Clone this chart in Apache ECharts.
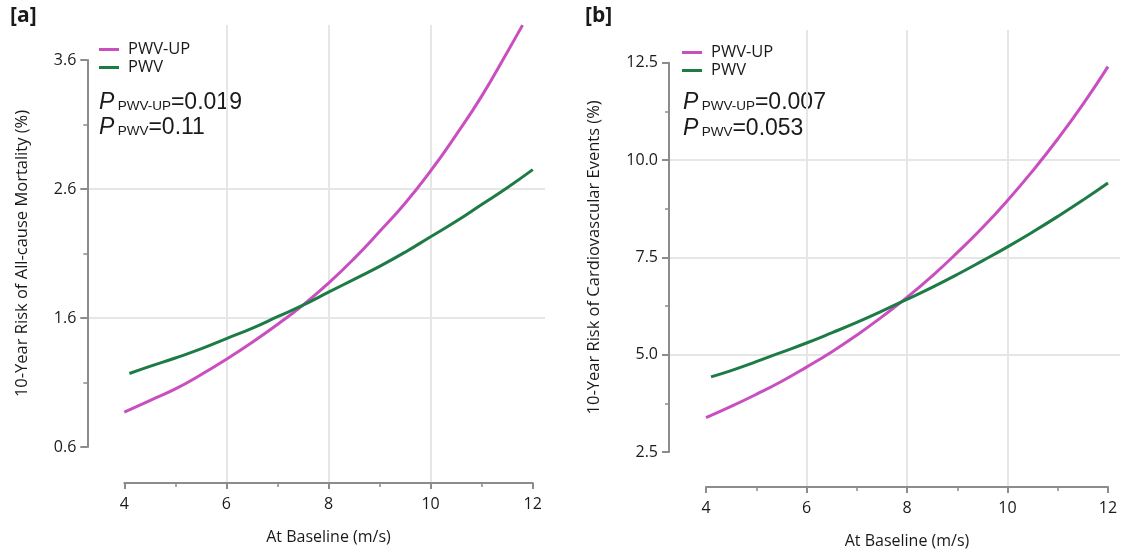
<!DOCTYPE html>
<html>
<head>
<meta charset="utf-8">
<script src="https://cdn.jsdelivr.net/npm/echarts@6/dist/echarts.min.js"></script>
<style>
html,body{margin:0;padding:0;background:#fff;}
#chart{width:1123px;height:555px;}
</style>
</head>
<body>
<div id="chart"></div>
<script>
// ---- data ----
const xTicks = [4, 6, 8, 10, 12];
const yTicksA = [0.6, 1.6, 2.6, 3.6];
const yTicksB = [2.5, 5.0, 7.5, 10.0, 12.5];

// Panel [a] – 10-year risk of all-cause mortality (%)
const xUpA  = [4.0, 4.5, 5.0, 5.5, 6.0, 6.5, 7.0, 7.5, 8.0, 8.5, 9.0, 9.5, 10.0, 10.5, 11.0, 11.5, 11.8];
const upA   = [0.87, 0.96, 1.05, 1.16, 1.28, 1.41, 1.55, 1.70, 1.87, 2.06, 2.27, 2.49, 2.74, 3.02, 3.32, 3.66, 3.87];
const xPwvA = [4.1, 4.5, 5.0, 5.5, 6.0, 6.5, 7.0, 7.5, 8.0, 8.5, 9.0, 9.5, 10.0, 10.5, 11.0, 11.5, 12.0];
const pwvA  = [1.17, 1.225, 1.29, 1.36, 1.44, 1.52, 1.61, 1.70, 1.80, 1.90, 2.00, 2.11, 2.23, 2.35, 2.48, 2.61, 2.75];

// Panel [b] – 10-year risk of cardiovascular events (%)
const xUpB  = [4.0, 4.5, 5.0, 5.5, 6.0, 6.5, 7.0, 7.5, 8.0, 8.5, 9.0, 9.5, 10.0, 10.5, 11.0, 11.5, 12.0];
const upB   = [3.38, 3.67, 3.98, 4.31, 4.68, 5.07, 5.50, 5.97, 6.47, 7.02, 7.62, 8.26, 8.96, 9.72, 10.54, 11.43, 12.40];
const xPwvB = [4.1, 4.5, 5.0, 5.5, 6.0, 6.5, 7.0, 7.5, 8.0, 8.5, 9.0, 9.5, 10.0, 10.5, 11.0, 11.5, 12.0];
const pwvB  = [4.43, 4.59, 4.82, 5.06, 5.30, 5.56, 5.83, 6.12, 6.42, 6.73, 7.06, 7.41, 7.77, 8.15, 8.55, 8.97, 9.41];

const seriesNames = ['PWV-UP', 'PWV'];
const pTextA = ['0.019', '0.11'];
const pTextB = ['0.007', '0.053'];

// ---- styling ----
const MAG = '#c94fc1';
const GRN = '#1d7b45';
const AX = '#8c8c8c';
const GRIDC = '#e6e6e6';
const TXT = '#1a1a1a';
const FONT = 'Open Sans';

const zip = (xs, ys) => xs.map((x, i) => [x, ys[i]]);

function gridAxisX(gridIndex, min, max) {
  return {
    type: 'value', gridIndex, min, max,
    axisLine: {show: false}, axisLabel: {show: false},
    axisTick: {show: false, customValues: xTicks},
    splitLine: {show: true, showMinLine: false, showMaxLine: false, lineStyle: {color: GRIDC, width: 2}}
  };
}
function gridAxisY(gridIndex, min, max, ticks) {
  return {
    type: 'value', gridIndex, min, max,
    axisLine: {show: false}, axisLabel: {show: false},
    axisTick: {show: false, customValues: ticks},
    splitLine: {show: true, showMinLine: false, showMaxLine: false, lineStyle: {color: GRIDC, width: 2}}
  };
}
function mainAxisX(gridIndex, offset, nameGap) {
  return {
    type: 'value', gridIndex, min: 4, max: 12, interval: 2, offset,
    name: 'At Baseline (m/s)', nameLocation: 'middle', nameGap,
    nameTextStyle: {fontFamily: FONT, fontSize: 16, color: TXT},
    axisLine: {show: true, lineStyle: {color: AX, width: 2}},
    axisTick: {show: true, length: 6, lineStyle: {color: AX, width: 2}},
    minorTick: {show: true, splitNumber: 2, length: 4, lineStyle: {color: AX, width: 1.5}},
    axisLabel: {fontFamily: FONT, fontSize: 16, color: TXT, margin: 13},
    splitLine: {show: false}
  };
}
function mainAxisY(gridIndex, min, max, interval, offset, name, nameGap, dec) {
  return {
    type: 'value', gridIndex, min, max, interval, offset,
    name, nameLocation: 'middle', nameGap,
    nameTextStyle: {fontFamily: FONT, fontSize: 16.5, color: TXT},
    axisLine: {show: true, lineStyle: {color: AX, width: 2}},
    axisTick: {show: true, length: 7, lineStyle: {color: AX, width: 2}},
    minorTick: {show: true, splitNumber: 2, length: 4, lineStyle: {color: AX, width: 1.5}},
    axisLabel: {fontFamily: FONT, fontSize: 16, color: TXT, margin: 11,
      formatter: v => v.toFixed(dec)},
    splitLine: {show: false}
  };
}
function lineSeries(name, data, color, xi, yi) {
  return {
    type: 'line', name, data, xAxisIndex: xi, yAxisIndex: yi,
    smooth: true, showSymbol: false, clip: true,
    lineStyle: {color, width: 3}, itemStyle: {color}
  };
}
function pText(x, y, sub, val) {
  return {
    type: 'text', left: x, top: y,
    style: {
      text: '{p|P} {s|' + sub + '}{v|=' + val + '}',
      rich: {
        p: {fontFamily: 'Liberation Sans', fontStyle: 'italic', fontSize: 23, fill: TXT, verticalAlign: 'bottom', lineHeight: 25},
        s: {fontFamily: 'Liberation Sans', fontSize: 13.5, fill: TXT, verticalAlign: 'bottom', lineHeight: 25, padding: [0, 0, 1, 0]},
        v: {fontFamily: 'Liberation Sans', fontSize: 23, fill: TXT, verticalAlign: 'bottom', lineHeight: 25}
      }
    }
  };
}
function legend(left, top) {
  return {
    left, top, orient: 'vertical', data: seriesNames, icon: 'rect',
    itemWidth: 20, itemHeight: 3, itemGap: 1, selectedMode: false,
    textStyle: {fontFamily: FONT, fontSize: 16.5, color: TXT, padding: [0, 0, 0, 4]}
  };
}

const chart = echarts.init(document.getElementById('chart'), null, {renderer: 'canvas'});
chart.setOption({
  backgroundColor: '#fff',
  animation: false,
  color: [MAG, GRN],
  grid: [
    {left: 87, top: 25, width: 458, height: 458},
    {left: 124.3, top: 60, width: 408.4, height: 387},
    {left: 669, top: 30, width: 451, height: 457},
    {left: 706, top: 62.7, width: 402, height: 389.3}
  ],
  xAxis: [
    gridAxisX(0, 3.269, 12.24),
    mainAxisX(1, 36, 46),
    gridAxisX(2, 3.264, 12.239),
    mainAxisX(3, 35, 46)
  ],
  yAxis: [
    gridAxisY(0, 0.321, 3.871, yTicksA),
    mainAxisY(1, 0.6, 3.6, 1, 37, '10-Year Risk of All-cause Mortality (%)', 57, 1),
    gridAxisY(2, 1.601, 13.34, yTicksB),
    mainAxisY(3, 2.5, 12.5, 2.5, 37, '10-Year Risk of Cardiovascular Events (%)', 66, 1)
  ],
  legend: [legend(94, 36), legend(677, 39)],
  series: [
    lineSeries(seriesNames[0], zip(xUpA, upA), MAG, 0, 0),
    lineSeries(seriesNames[1], zip(xPwvA, pwvA), GRN, 0, 0),
    lineSeries(seriesNames[0], zip(xUpB, upB), MAG, 2, 2),
    lineSeries(seriesNames[1], zip(xPwvB, pwvB), GRN, 2, 2)
  ],
  graphic: [
    {type: 'text', left: 10, top: 6, style: {text: '[a]', fontFamily: FONT, fontWeight: 'bold', fontSize: 21, fill: TXT}},
    {type: 'text', left: 585, top: 6, style: {text: '[b]', fontFamily: FONT, fontWeight: 'bold', fontSize: 21, fill: TXT}},
    pText(99, 91, 'PWV-UP', pTextA[0]),
    pText(99, 116, 'PWV', pTextA[1]),
    pText(683, 91, 'PWV-UP', pTextB[0]),
    pText(683, 117, 'PWV', pTextB[1])
  ]
});
</script>
</body>
</html>
